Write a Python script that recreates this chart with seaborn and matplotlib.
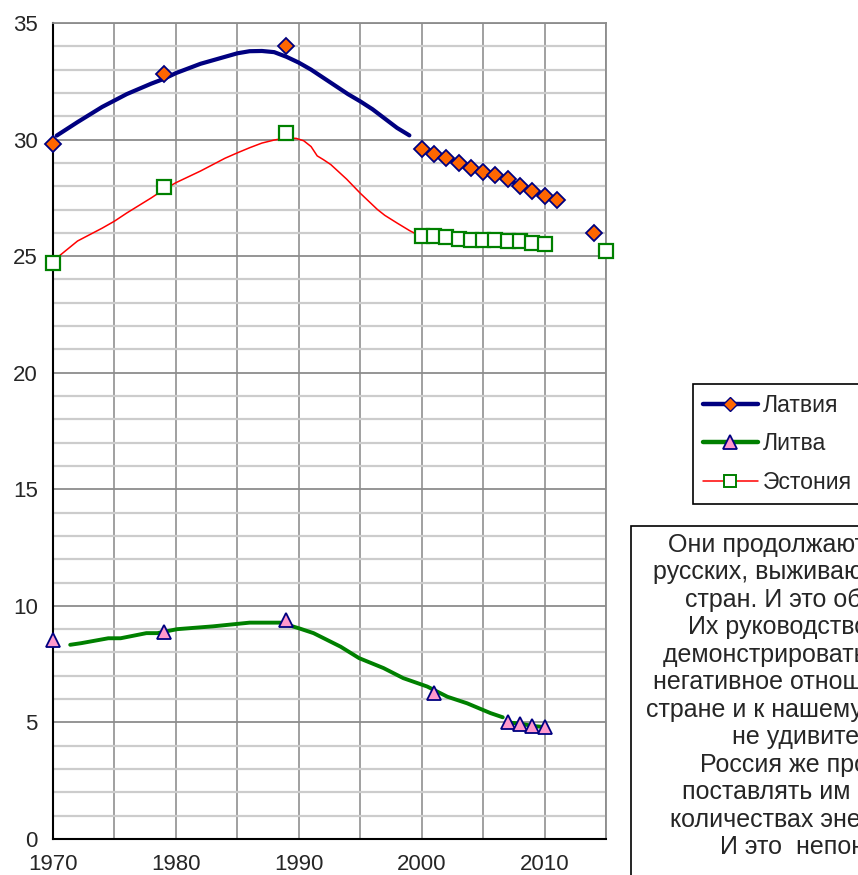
# ==========================================
# BALTIC STATES CHART (RUSSIAN SHARE, %)
# ==========================================

import numpy as np
import pandas as pd
import matplotlib
matplotlib.use('Agg')
import matplotlib.pyplot as plt
from matplotlib.lines import Line2D
from matplotlib.patches import Rectangle
import seaborn as sns

# ==========================================
# DATA
# ==========================================

all_years = list(range(1970, 2016))

latvia_years = [1970, 1979, 1989, 2000, 2001, 2002, 2003, 2004, 2005,
                2006, 2007, 2008, 2009, 2010, 2011, 2014]
latvia_values = [29.8, 32.8, 34.0, 29.6, 29.4, 29.2, 29.0, 28.8, 28.6,
                 28.5, 28.3, 28.0, 27.8, 27.6, 27.4, 26.0]

lithuania_years = [1970, 1979, 1989, 2001, 2007, 2008, 2009, 2010]
lithuania_values = [8.55, 8.9, 9.4, 6.25, 5.0, 4.95, 4.85, 4.8]

estonia_years = [1970, 1979, 1989, 2000, 2001, 2002, 2003, 2004, 2005,
                 2006, 2007, 2008, 2009, 2010, 2015]
estonia_values = [24.7, 27.95, 30.3, 25.85, 25.85, 25.8, 25.75, 25.7, 25.7,
                  25.68, 25.65, 25.65, 25.57, 25.5, 25.2]

# smoothed trend lines
latvia_smooth_years = [1970.3, 1972, 1974, 1976, 1978, 1979, 1980, 1982, 1984,
                       1985, 1986, 1987, 1988, 1989, 1990, 1991, 1992, 1993,
                       1994, 1995, 1996, 1997, 1998, 1999]
latvia_smooth_values = [30.17, 30.75, 31.4, 31.95, 32.4, 32.6, 32.85, 33.25, 33.55,
                        33.7, 33.79, 33.8, 33.75, 33.55, 33.3, 33.0, 32.65, 32.3,
                        31.95, 31.64, 31.3, 30.9, 30.5, 30.18]

estonia_smooth_years = [1970.3, 1972, 1974, 1975, 1976, 1978, 1979, 1980, 1982,
                        1984, 1985, 1986, 1987, 1988, 1989, 1989.8, 1990.4, 1991,
                        1991.5, 1992, 1992.6, 1993.9, 1995, 1996.4, 1997, 1998,
                        1999, 2000.1]
estonia_smooth_values = [24.92, 25.65, 26.2, 26.5, 26.85, 27.5, 27.85, 28.15, 28.65,
                         29.2, 29.43, 29.65, 29.85, 29.98, 30.07, 30.05, 29.95, 29.7,
                         29.3, 29.14, 28.93, 28.3, 27.7, 27.0, 26.75, 26.42,
                         26.1, 25.8]

lithuania_smooth_years = [1971.4, 1972.3, 1974.5, 1975.5, 1977.6, 1978.5, 1980.1,
                          1983, 1986, 1988.5, 1990, 1991.2, 1993.4, 1994.9, 1996.9,
                          1998.5, 2000.45, 2002.1, 2003.7, 2005.6, 2006.6]
lithuania_smooth_values = [8.33, 8.4, 8.61, 8.61, 8.83, 8.83, 9.0,
                           9.12, 9.28, 9.28, 9.04, 8.83, 8.25, 7.76, 7.33,
                           6.9, 6.54, 6.1, 5.82, 5.4, 5.22]

legend_labels = ['Латвия', 'Литва', 'Эстония']

x_ticks = list(range(1970, 2016, 5))
x_tick_labels = ['1970', '', '1980', '', '1990', '', '2000', '', '2010', '']

note_lines = [
    'Они продолжают выдавливать',
    'русских, выживают их из своих',
    'стран. И это объяснимо.',
    'Их руководство продолжает',
    'демонстрировать крайне',
    'негативное отношение к нашей',
    'стране и к нашему народу. И это',
    'не удивительно.',
    'Россия же продолжает',
    'поставлять им в больших',
    'количествах энергоносители.',
    'И это  непонятно.',
]
note_x = [668, 653, 685, 688, 663, 653, 646, 732, 700, 682, 670, 720]

# ==========================================
# STYLE
# ==========================================

sns.set_style('white')
plt.rcParams['font.family'] = ['Liberation Sans', 'DejaVu Sans']

NAVY = '#000080'
GREEN = '#008000'
RED = '#ff0000'
ORANGE = '#ff6600'
PINK = '#ff99cc'

W, H = 858, 875
fig = plt.figure(figsize=(W / 100, H / 100), dpi=100)
ax = fig.add_axes([53 / W, 1 - 839 / H, (606 - 53) / W, (839 - 23) / H])

# ==========================================
# SMOOTH LINES
# ==========================================

sns.lineplot(x=latvia_smooth_years, y=latvia_smooth_values, sort=False,
             estimator=None, color=NAVY, linewidth=3, ax=ax)
sns.lineplot(x=estonia_smooth_years, y=estonia_smooth_values, sort=False,
             estimator=None, color=RED, linewidth=1.1, ax=ax)
sns.lineplot(x=lithuania_smooth_years, y=lithuania_smooth_values, sort=False,
             estimator=None, color=GREEN, linewidth=2.8, ax=ax)

# ==========================================
# MARKER SERIES (gaps where no data)
# ==========================================

lat = pd.Series(latvia_values, index=latvia_years).reindex(all_years)
lit = pd.Series(lithuania_values, index=lithuania_years).reindex(all_years)
est = pd.Series(estonia_values, index=estonia_years).reindex(all_years)

ax.plot(all_years, est.values, color=RED, lw=1.1, marker='s', ms=9.5,
        mfc='white', mec=GREEN, mew=1.6, clip_on=False, zorder=4)
ax.plot(all_years, lat.values, color=NAVY, lw=3, marker='D', ms=8.5,
        mfc=ORANGE, mec=NAVY, mew=1.3, clip_on=False, zorder=5)
ax.plot(all_years, lit.values, color=GREEN, lw=2.8, marker='^', ms=10.5,
        mfc=PINK, mec=NAVY, mew=1.3, clip_on=False, zorder=5)

# ==========================================
# AXES
# ==========================================

ax.set_xlim(1970, 2015)
ax.set_ylim(0, 35)
ax.set_xticks(x_ticks)
ax.set_xticklabels(x_tick_labels)
ax.set_yticks(range(0, 36, 5))
ax.set_yticks(range(0, 36), minor=True)
ax.set_xlabel('')
ax.set_ylabel('')

ax.grid(which='minor', axis='y', color='#cccccc', lw=1.6)
ax.grid(which='major', axis='y', color='#8c8c8c', lw=1.3)
ax.grid(which='major', axis='x', color='#999999', lw=1.3)
ax.set_axisbelow(True)

ax.tick_params(axis='both', which='major', direction='out', length=6,
               width=1.3, color='black', labelsize=16, pad=5)
ax.tick_params(axis='y', which='minor', length=0)

for side in ['left', 'bottom']:
    ax.spines[side].set_color('black')
    ax.spines[side].set_linewidth(1.5)
for side in ['top', 'right']:
    ax.spines[side].set_color('#8c8c8c')
    ax.spines[side].set_linewidth(1.3)

# ==========================================
# LEGEND
# ==========================================

handles = [
    Line2D([], [], color=NAVY, lw=3.2, marker='D', ms=7, mfc=ORANGE, mec=NAVY, mew=1),
    Line2D([], [], color=GREEN, lw=3.2, marker='^', ms=10, mfc=PINK, mec=NAVY, mew=1.3),
    Line2D([], [], color=RED, lw=1.1, marker='s', ms=8.5, mfc='white', mec=GREEN, mew=1.4),
]
leg = fig.legend(handles, legend_labels, loc='upper left',
                 bbox_to_anchor=(693 / W, 1 - 384 / H), bbox_transform=fig.transFigure,
                 frameon=True, fancybox=False, edgecolor='black', framealpha=1,
                 fontsize=16.6, handlelength=2.4, handletextpad=0.2,
                 labelspacing=0.68, borderpad=0.42, borderaxespad=0)
leg.get_frame().set_linewidth(1.2)

# ==========================================
# NOTE BOX
# ==========================================

box = Rectangle((631 / W, -0.1), 0.5, (875 - 526) / H + 0.1,
                transform=fig.transFigure, facecolor='white',
                edgecolor='black', lw=1.2, clip_on=False)
fig.add_artist(box)

for i, line in enumerate(note_lines):
    fig.text(note_x[i] / W, 1 - (552 + i * 27.45) / H, line,
             fontsize=18, ha='left', va='baseline')

fig.savefig('out.png', dpi=100)
